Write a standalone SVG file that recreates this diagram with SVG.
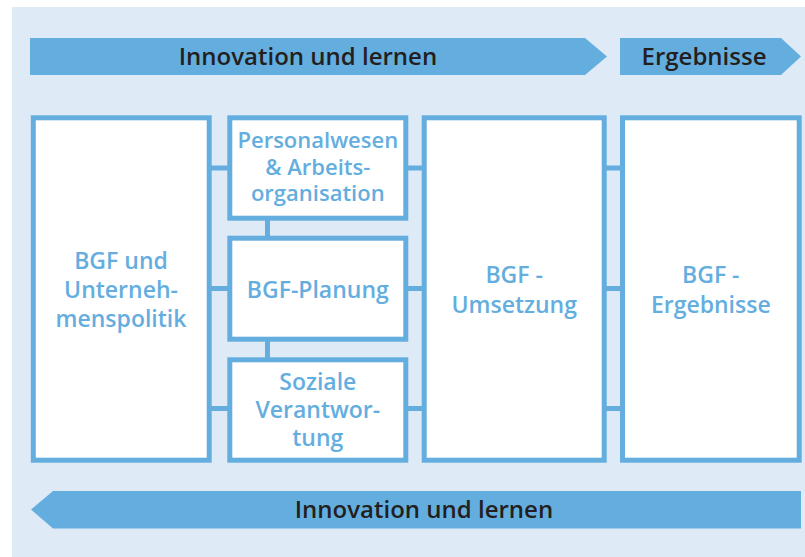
<svg xmlns="http://www.w3.org/2000/svg" width="805" height="557" viewBox="0 0 805 557">
  <style>
    .band { fill: #64aedf; }
    .box { fill: #ffffff; stroke: #64aedf; stroke-width: 5; }
    .link { stroke: #64aedf; stroke-width: 5; fill: none; }
    .head { font-family: "Open Sans", "Noto Sans", sans-serif; font-weight: 600; font-size: 24px; fill: #231f20; text-anchor: middle; }
    .lbl { font-family: "Open Sans", "Noto Sans", sans-serif; font-weight: 600; font-size: 23px; fill: #64aedf; text-anchor: middle; }
    .lbl-s { font-size: 22px; }
  </style>

  <!-- background panel -->
  <rect x="0" y="0" width="805" height="557" fill="#ffffff"/>
  <rect x="12" y="7" width="793" height="550" fill="#deeaf6"/>

  <!-- top process bands -->
  <g id="band-innovation-top">
    <polygon class="band" points="30,38 585,38 607,56.5 585,75 30,75"/>
    <text class="head" x="308" y="65">Innovation und lernen</text>
  </g>
  <g id="band-ergebnisse">
    <polygon class="band" points="620,38 781,38 801,56.5 781,75 620,75"/>
    <text class="head" x="704" y="65">Ergebnisse</text>
  </g>

  <!-- connectors -->
  <g id="connectors">
    <path class="link" d="M209,168 H230 M209,288.5 H230 M209,408.5 H230"/>
    <path class="link" d="M406,168 H424 M406,288.5 H424 M406,408.5 H424"/>
    <path class="link" d="M604,168 H623 M604,288.5 H623 M604,408.5 H623"/>
    <path class="link" d="M267.5,218 V238 M267.5,339 V360"/>
  </g>

  <!-- nodes -->
  <g id="node-politik">
    <rect class="box" x="33.3" y="117.8" width="175.9" height="342.4"/>
    <text class="lbl" x="121" y="269">BGF und</text>
    <text class="lbl" x="121" y="298">Unterneh-</text>
    <text class="lbl" x="121" y="327">menspolitik</text>
  </g>

  <g id="node-personal">
    <rect class="box" x="229.8" y="117.8" width="176" height="100.4"/>
    <text class="lbl lbl-s" x="317.8" y="148">Personalwesen</text>
    <text class="lbl lbl-s" x="317.8" y="174.5">&amp; Arbeits-</text>
    <text class="lbl lbl-s" x="317.8" y="201">organisation</text>
  </g>

  <g id="node-planung">
    <rect class="box" x="229.8" y="238.2" width="176" height="101"/>
    <text class="lbl" x="317.8" y="298.3">BGF-Planung</text>
  </g>

  <g id="node-sozial">
    <rect class="box" x="229.8" y="359.8" width="176" height="100.4"/>
    <text class="lbl" x="317.8" y="390">Soziale</text>
    <text class="lbl" x="317.8" y="418.3">Verantwor-</text>
    <text class="lbl" x="317.8" y="446">tung</text>
  </g>

  <g id="node-umsetzung">
    <rect class="box" x="424.2" y="117.8" width="180" height="342.4"/>
    <text class="lbl" x="514.2" y="283.3">BGF -</text>
    <text class="lbl" x="514.2" y="313.3">Umsetzung</text>
  </g>

  <g id="node-ergebnisse">
    <rect class="box" x="622.5" y="117.8" width="176.7" height="342.4"/>
    <text class="lbl" x="710.8" y="283.3">BGF -</text>
    <text class="lbl" x="710.8" y="313.3">Ergebnisse</text>
  </g>

  <!-- bottom feedback band -->
  <g id="band-innovation-bottom">
    <polygon class="band" points="31,509.5 53,491 801,491 801,528.5 53,528.5"/>
    <text class="head" x="424" y="518">Innovation und lernen</text>
  </g>
</svg>
